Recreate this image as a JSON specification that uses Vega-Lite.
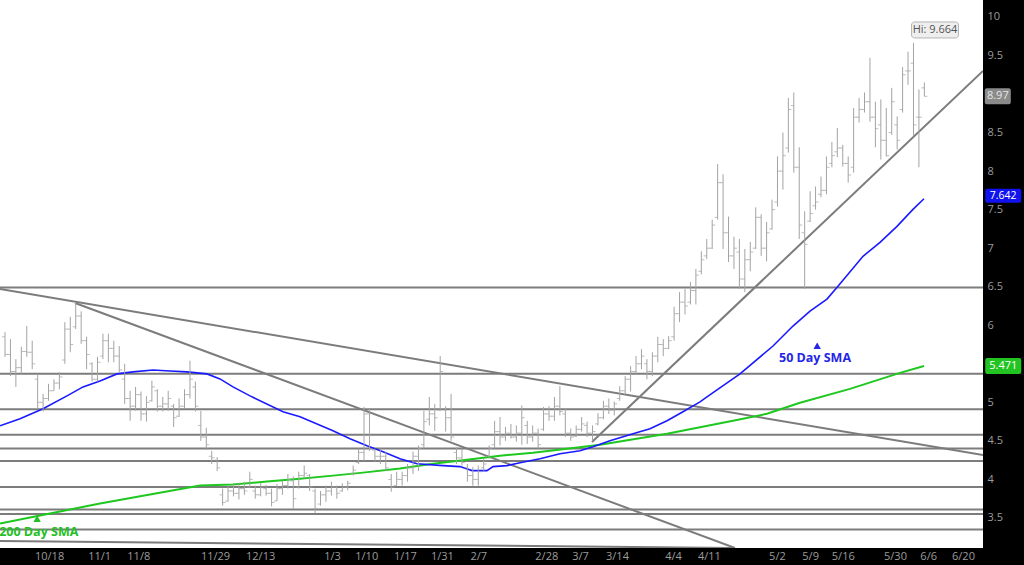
{
"$schema": "https://vega.github.io/schema/vega-lite/v6.json",
"width": 983, "height": 548,
"autosize": {"type": "none"},
"padding": {"left": 0, "top": 0, "right": 41, "bottom": 17},
"background": "#000000",
"config": {"view": {"fill": "#ffffff", "stroke": null}, "font": "Open Sans",
  "axis": {"domain": false, "ticks": false, "grid": false, "labelColor": "#9c9c9c", "labelFontSize": 11, "labelFont": "Open Sans", "title": null}},
"datasets": {
"bars": [
{"i":0,"o":5.85,"h":5.91,"l":5.59,"c":5.62},{"i":1,"o":5.62,"h":5.82,"l":5.34,"c":5.40},{"i":2,"o":5.40,"h":5.56,"l":5.20,"c":5.45},{"i":3,"o":5.45,"h":5.72,"l":5.37,"c":5.66},{"i":4,"o":5.66,"h":5.99,"l":5.59,"c":5.65},{"i":5,"o":5.65,"h":5.80,"l":5.43,"c":5.50},{"i":6,"o":5.30,"h":5.37,"l":4.92,"c":5.00},{"i":7,"o":5.00,"h":5.11,"l":4.88,"c":5.05},{"i":8,"o":5.05,"h":5.24,"l":5.02,"c":5.15},{"i":9,"o":5.15,"h":5.30,"l":5.15,"c":5.25},
{"i":10,"o":5.25,"h":5.39,"l":5.17,"c":5.33},{"i":11,"o":5.55,"h":6.04,"l":5.50,"c":5.95},{"i":12,"o":5.95,"h":6.11,"l":5.65,"c":5.75},{"i":13,"o":5.98,"h":6.30,"l":5.95,"c":6.12},{"i":14,"o":6.12,"h":6.18,"l":5.76,"c":5.80},{"i":15,"o":5.80,"h":5.85,"l":5.43,"c":5.62},{"i":16,"o":5.50,"h":5.52,"l":5.27,"c":5.30},{"i":17,"o":5.30,"h":5.59,"l":5.27,"c":5.52},{"i":18,"o":5.60,"h":5.89,"l":5.56,"c":5.80},{"i":19,"o":5.80,"h":5.89,"l":5.52,"c":5.70},
{"i":20,"o":5.70,"h":5.80,"l":5.52,"c":5.60},{"i":21,"o":5.60,"h":5.73,"l":5.39,"c":5.42},{"i":22,"o":5.30,"h":5.50,"l":4.98,"c":5.05},{"i":23,"o":5.05,"h":5.15,"l":4.76,"c":4.95},{"i":24,"o":4.95,"h":5.20,"l":4.89,"c":5.10},{"i":25,"o":5.10,"h":5.14,"l":4.76,"c":4.85},{"i":26,"o":4.85,"h":5.08,"l":4.75,"c":5.00},{"i":27,"o":5.02,"h":5.28,"l":5.01,"c":5.20},{"i":28,"o":5.15,"h":5.17,"l":4.88,"c":4.95},{"i":29,"o":4.95,"h":5.07,"l":4.88,"c":4.98},
{"i":30,"o":4.98,"h":5.15,"l":4.89,"c":5.05},{"i":31,"o":4.95,"h":4.98,"l":4.68,"c":4.80},{"i":32,"o":4.82,"h":5.05,"l":4.81,"c":4.95},{"i":33,"o":4.95,"h":5.17,"l":4.92,"c":5.10},{"i":34,"o":5.10,"h":5.54,"l":5.05,"c":5.30},{"i":35,"o":5.20,"h":5.27,"l":4.88,"c":4.95},{"i":36,"o":4.70,"h":4.89,"l":4.50,"c":4.55},{"i":37,"o":4.55,"h":4.67,"l":4.38,"c":4.45},{"i":38,"o":4.30,"h":4.37,"l":4.20,"c":4.28},{"i":39,"o":4.25,"h":4.29,"l":4.11,"c":4.15},
{"i":40,"o":3.80,"h":3.88,"l":3.66,"c":3.70},{"i":41,"o":3.72,"h":3.91,"l":3.71,"c":3.85},{"i":42,"o":3.85,"h":3.95,"l":3.78,"c":3.82},{"i":43,"o":3.82,"h":3.95,"l":3.74,"c":3.88},{"i":44,"o":3.88,"h":3.97,"l":3.80,"c":3.85},{"i":45,"o":3.90,"h":4.10,"l":3.89,"c":4.00},{"i":46,"o":3.85,"h":3.92,"l":3.75,"c":3.80},{"i":47,"o":3.80,"h":3.95,"l":3.78,"c":3.90},{"i":48,"o":3.88,"h":3.93,"l":3.79,"c":3.82},{"i":49,"o":3.82,"h":3.88,"l":3.65,"c":3.70},
{"i":50,"o":3.72,"h":3.94,"l":3.72,"c":3.88},{"i":51,"o":3.88,"h":3.98,"l":3.80,"c":3.92},{"i":52,"o":3.92,"h":4.07,"l":3.88,"c":4.00},{"i":53,"o":3.98,"h":4.04,"l":3.62,"c":3.75},{"i":54,"o":3.90,"h":4.10,"l":3.88,"c":4.05},{"i":55,"o":4.05,"h":4.18,"l":4.01,"c":4.08},{"i":56,"o":4.05,"h":4.07,"l":3.85,"c":3.90},{"i":57,"o":3.85,"h":3.88,"l":3.56,"c":3.62},{"i":58,"o":3.68,"h":3.85,"l":3.66,"c":3.80},{"i":59,"o":3.80,"h":3.92,"l":3.71,"c":3.85},
{"i":60,"o":3.85,"h":3.97,"l":3.79,"c":3.90},{"i":61,"o":3.90,"h":3.92,"l":3.75,"c":3.82},{"i":62,"o":3.85,"h":3.95,"l":3.84,"c":3.90},{"i":63,"o":3.90,"h":3.98,"l":3.86,"c":3.95},{"i":64,"o":4.08,"h":4.18,"l":4.05,"c":4.12},{"i":65,"o":4.22,"h":4.40,"l":4.20,"c":4.35},{"i":66,"o":4.35,"h":4.94,"l":4.24,"c":4.85},{"i":67,"o":4.85,"h":4.92,"l":4.37,"c":4.40},{"i":68,"o":4.38,"h":4.40,"l":4.23,"c":4.30},{"i":69,"o":4.30,"h":4.40,"l":4.20,"c":4.30},
{"i":70,"o":4.30,"h":4.36,"l":4.11,"c":4.15},{"i":71,"o":4.00,"h":4.07,"l":3.84,"c":3.90},{"i":72,"o":3.92,"h":4.10,"l":3.92,"c":4.00},{"i":73,"o":4.00,"h":4.10,"l":3.92,"c":4.05},{"i":74,"o":4.05,"h":4.20,"l":3.97,"c":4.15},{"i":75,"o":4.15,"h":4.36,"l":4.07,"c":4.30},{"i":76,"o":4.30,"h":4.44,"l":4.11,"c":4.40},{"i":77,"o":4.45,"h":4.89,"l":4.40,"c":4.75},{"i":78,"o":4.78,"h":5.07,"l":4.70,"c":4.85},{"i":79,"o":4.85,"h":4.98,"l":4.63,"c":4.80},
{"i":80,"o":4.90,"h":5.60,"l":4.89,"c":5.40},{"i":81,"o":4.90,"h":4.95,"l":4.62,"c":4.80},{"i":82,"o":4.80,"h":5.11,"l":4.50,"c":4.55},{"i":83,"o":4.35,"h":4.42,"l":4.20,"c":4.28},{"i":84,"o":4.28,"h":4.40,"l":4.18,"c":4.22},{"i":85,"o":4.15,"h":4.20,"l":3.97,"c":4.05},{"i":86,"o":4.05,"h":4.16,"l":3.92,"c":4.00},{"i":87,"o":4.00,"h":4.18,"l":3.92,"c":4.10},{"i":88,"o":4.15,"h":4.27,"l":4.11,"c":4.20},{"i":89,"o":4.30,"h":4.44,"l":4.27,"c":4.40},
{"i":90,"o":4.45,"h":4.76,"l":4.40,"c":4.62},{"i":91,"o":4.62,"h":4.81,"l":4.44,"c":4.55},{"i":92,"o":4.55,"h":4.68,"l":4.50,"c":4.60},{"i":93,"o":4.60,"h":4.72,"l":4.53,"c":4.55},{"i":94,"o":4.55,"h":4.70,"l":4.49,"c":4.60},{"i":95,"o":4.60,"h":4.96,"l":4.45,"c":4.80},{"i":96,"o":4.70,"h":4.76,"l":4.46,"c":4.55},{"i":97,"o":4.55,"h":4.70,"l":4.49,"c":4.60},{"i":98,"o":4.60,"h":4.66,"l":4.40,"c":4.45},{"i":99,"o":4.65,"h":4.94,"l":4.63,"c":4.85},
{"i":100,"o":4.85,"h":4.95,"l":4.76,"c":4.82},{"i":101,"o":4.82,"h":5.07,"l":4.76,"c":4.95},{"i":102,"o":4.95,"h":5.21,"l":4.83,"c":4.88},{"i":103,"o":4.85,"h":4.92,"l":4.55,"c":4.60},{"i":104,"o":4.60,"h":4.66,"l":4.50,"c":4.55},{"i":105,"o":4.56,"h":4.70,"l":4.55,"c":4.65},{"i":106,"o":4.65,"h":4.81,"l":4.62,"c":4.72},{"i":107,"o":4.70,"h":4.75,"l":4.55,"c":4.60},{"i":108,"o":4.60,"h":4.70,"l":4.50,"c":4.62},{"i":109,"o":4.72,"h":4.86,"l":4.70,"c":4.80},
{"i":110,"o":4.80,"h":5.02,"l":4.78,"c":4.95},{"i":111,"o":4.95,"h":5.05,"l":4.85,"c":4.90},{"i":112,"o":4.90,"h":5.01,"l":4.83,"c":4.98},{"i":113,"o":5.05,"h":5.21,"l":5.02,"c":5.15},{"i":114,"o":5.15,"h":5.34,"l":5.10,"c":5.30},{"i":115,"o":5.30,"h":5.47,"l":5.14,"c":5.40},{"i":116,"o":5.40,"h":5.60,"l":5.37,"c":5.50},{"i":117,"o":5.50,"h":5.69,"l":5.43,"c":5.60},{"i":118,"o":5.50,"h":5.56,"l":5.30,"c":5.40},{"i":119,"o":5.40,"h":5.65,"l":5.34,"c":5.60},
{"i":120,"o":5.60,"h":5.85,"l":5.52,"c":5.75},{"i":121,"o":5.75,"h":5.82,"l":5.60,"c":5.70},{"i":122,"o":5.70,"h":5.86,"l":5.69,"c":5.80},{"i":123,"o":5.85,"h":6.24,"l":5.80,"c":6.15},{"i":124,"o":6.15,"h":6.43,"l":6.04,"c":6.30},{"i":125,"o":6.30,"h":6.47,"l":6.14,"c":6.25},{"i":126,"o":6.30,"h":6.56,"l":6.27,"c":6.45},{"i":127,"o":6.45,"h":6.73,"l":6.27,"c":6.65},{"i":128,"o":6.70,"h":6.96,"l":6.66,"c":6.85},{"i":129,"o":6.90,"h":7.12,"l":6.86,"c":7.00},
{"i":130,"o":7.00,"h":7.37,"l":6.99,"c":7.30},{"i":131,"o":7.40,"h":8.09,"l":7.37,"c":7.85},{"i":132,"o":7.85,"h":7.96,"l":6.99,"c":7.20},{"i":133,"o":7.20,"h":7.41,"l":6.82,"c":6.90},{"i":134,"o":6.90,"h":7.15,"l":6.73,"c":7.00},{"i":135,"o":6.95,"h":7.12,"l":6.47,"c":6.60},{"i":136,"o":6.60,"h":6.99,"l":6.43,"c":6.85},{"i":137,"o":6.85,"h":7.08,"l":6.70,"c":6.95},{"i":138,"o":7.00,"h":7.53,"l":6.99,"c":7.40},{"i":139,"o":7.40,"h":7.44,"l":6.90,"c":7.00},
{"i":140,"o":7.00,"h":7.34,"l":6.83,"c":7.20},{"i":141,"o":7.25,"h":7.63,"l":7.24,"c":7.50},{"i":142,"o":7.60,"h":8.19,"l":7.54,"c":8.00},{"i":143,"o":8.00,"h":8.50,"l":7.76,"c":8.20},{"i":144,"o":8.30,"h":8.95,"l":8.24,"c":8.80},{"i":145,"o":8.85,"h":9.02,"l":7.98,"c":8.05},{"i":146,"o":8.05,"h":8.31,"l":7.12,"c":7.30},{"i":147,"o":7.20,"h":7.48,"l":6.47,"c":7.05},{"i":148,"o":7.35,"h":7.74,"l":7.34,"c":7.45},{"i":149,"o":7.55,"h":7.80,"l":7.50,"c":7.60},
{"i":150,"o":7.70,"h":7.93,"l":7.66,"c":7.75},{"i":151,"o":7.75,"h":8.19,"l":7.70,"c":8.05},{"i":152,"o":8.10,"h":8.38,"l":8.05,"c":8.20},{"i":153,"o":8.25,"h":8.56,"l":8.18,"c":8.30},{"i":154,"o":8.30,"h":8.34,"l":8.06,"c":8.10},{"i":155,"o":8.10,"h":8.19,"l":7.85,"c":7.95},{"i":156,"o":8.05,"h":8.82,"l":7.98,"c":8.70},{"i":157,"o":8.70,"h":8.95,"l":8.63,"c":8.80},{"i":158,"o":8.80,"h":9.02,"l":8.76,"c":8.90},{"i":159,"o":8.90,"h":9.47,"l":8.64,"c":8.70},
{"i":160,"o":8.70,"h":8.90,"l":8.31,"c":8.55},{"i":161,"o":8.60,"h":8.93,"l":8.15,"c":8.40},{"i":162,"o":8.40,"h":8.82,"l":8.19,"c":8.20},{"i":163,"o":8.50,"h":9.08,"l":8.47,"c":8.90},{"i":164,"o":8.60,"h":8.71,"l":8.28,"c":8.40},{"i":165,"o":8.80,"h":9.35,"l":8.76,"c":9.25},{"i":166,"o":9.30,"h":9.55,"l":9.12,"c":9.30},{"i":167,"o":9.40,"h":9.664,"l":8.45,"c":8.60},{"i":168,"o":8.70,"h":9.06,"l":8.05,"c":8.70},{"i":169,"o":9.08,"h":9.15,"l":8.97,"c":8.97}
],
"sma50": [
{"i":-0.92,"v":4.696},{"i":2.76,"v":4.787},{"i":6.99,"v":4.916},{"i":11.4,"v":5.084},{"i":14.34,"v":5.2},{"i":17.46,"v":5.278},{"i":20.59,"v":5.369},{"i":23.53,"v":5.395},{"i":27.21,"v":5.42},{"i":30.33,"v":5.407},{"i":33.46,"v":5.395},{"i":37.13,"v":5.369},{"i":39.52,"v":5.304},{"i":41.91,"v":5.2},{"i":45.04,"v":5.084},{"i":51.1,"v":4.877},{"i":54.23,"v":4.812},{"i":60.29,"v":4.631},{"i":63.42,"v":4.528},{"i":66.54,"v":4.437},{"i":69.49,"v":4.36},{"i":72.61,"v":4.269},{"i":75.74,"v":4.204},{"i":80.51,"v":4.179},{"i":83.64,"v":4.166},{"i":85.85,"v":4.114},{"i":88.6,"v":4.114},{"i":89.71,"v":4.166},{"i":92.28,"v":4.179},{"i":94.67,"v":4.217},{"i":98.35,"v":4.269},{"i":102.02,"v":4.334},{"i":105.7,"v":4.372},{"i":108.09,"v":4.424},{"i":111.21,"v":4.502},{"i":115.44,"v":4.592},{"i":118.57,"v":4.657},{"i":121.69,"v":4.761},{"i":124.63,"v":4.877},{"i":127.76,"v":5.006},{"i":129.04,"v":5.071},{"i":135.11,"v":5.369},{"i":141.18,"v":5.731},{"i":144.85,"v":5.99},{"i":147.98,"v":6.184},{"i":151.1,"v":6.339},{"i":153.12,"v":6.507},{"i":157.72,"v":6.895},{"i":160.85,"v":7.076},{"i":163.97,"v":7.283},{"i":166.91,"v":7.503},{"i":168.93,"v":7.642}
],
"sma200": [
{"i":-0.92,"v":3.428},{"i":8.27,"v":3.558},{"i":17.46,"v":3.687},{"i":26.65,"v":3.803},{"i":35.85,"v":3.92},{"i":41.91,"v":3.933},{"i":48.16,"v":3.972},{"i":54.23,"v":4.01},{"i":60.29,"v":4.049},{"i":65.81,"v":4.088},{"i":72.61,"v":4.14},{"i":78.68,"v":4.204},{"i":84.93,"v":4.256},{"i":90.99,"v":4.308},{"i":97.06,"v":4.347},{"i":103.31,"v":4.398},{"i":109.38,"v":4.45},{"i":121.69,"v":4.592},{"i":133.82,"v":4.761},{"i":140.07,"v":4.851},{"i":146.14,"v":4.994},{"i":155.33,"v":5.175},{"i":164.52,"v":5.382},{"i":168.93,"v":5.471}
],
"levels": [{"p":6.49},{"p":5.37},{"p":4.91},{"p":4.58},{"p":4.40},{"p":4.24},{"p":3.90},{"p":3.61},{"p":3.55},{"p":3.35}],
"trends": [
{"i1":-0.92,"p1":6.471,"i2":179.78,"p2":4.317},
{"i1":12.87,"p1":6.289,"i2":134.19,"p2":3.11},
{"i1":107.9,"p1":4.486,"i2":179.78,"p2":9.299},
{"i1":-0.92,"p1":3.201,"i2":134.0,"p2":3.11}
]
},
"layer": [
{"data": {"name": "levels"}, "mark": {"type": "rule", "color": "#7c7c7c", "strokeWidth": 2},
 "encoding": {"y": {"field": "p", "type": "quantitative", "scale": {"domain": [3.11, 10.22], "nice": false, "zero": false},
   "axis": {"orient": "right", "values": [3.5,4,4.5,5,6,6.5,7,7.5,8,8.5,9.5,10], "format": "~g", "labelPadding": 4}}}},
{"data": {"name": "trends"}, "mark": {"type": "rule", "color": "#7c7c7c", "strokeWidth": 2, "clip": true},
 "encoding": {
  "x": {"field": "i1", "type": "quantitative", "scale": {"domain": [-0.92, 179.78], "nice": false, "zero": false},
   "axis": {"orient": "bottom", "labelPadding": 2, "labelOverlap": false, "labelFlush": false,
    "values": [8.1,17.3,24.5,38.6,46.9,60.1,66.4,73.5,80.3,87.0,99.5,105.7,112.5,122.8,129.4,141.9,148.0,154.0,163.6,169.7,176.1],
    "labelExpr": "['10/18','11/1','11/8','11/29','12/13','1/3','1/10','1/17','1/31','2/7','2/28','3/7','3/14','4/4','4/11','5/2','5/9','5/16','5/30','6/6','6/20'][indexof([8.1,17.3,24.5,38.6,46.9,60.1,66.4,73.5,80.3,87.0,99.5,105.7,112.5,122.8,129.4,141.9,148.0,154.0,163.6,169.7,176.1], datum.value)]"}},
  "x2": {"field": "i2"},
  "y": {"field": "p1", "type": "quantitative", "scale": {"domain": [3.11, 10.22], "nice": false, "zero": false},
   "axis": {"orient": "right", "values": [3.5,4,4.5,5,6,6.5,7,7.5,8,8.5,9.5,10], "format": "~g", "labelPadding": 4}},
  "y2": {"field": "p2"}}},
{"data": {"name": "sma200"}, "mark": {"type": "line", "color": "#1ec81e", "strokeWidth": 2, "clip": true},
 "encoding": {"x": {"field": "i", "type": "quantitative"},
  "y": {"field": "v", "type": "quantitative"}}},
{"data": {"name": "sma50"}, "mark": {"type": "line", "color": "#1a1aff", "strokeWidth": 1.6, "clip": true},
 "encoding": {"x": {"field": "i", "type": "quantitative"},
  "y": {"field": "v", "type": "quantitative"}}},
{"data": {"name": "bars"}, "mark": {"type": "rule", "color": "#a3a3a3", "strokeWidth": 1},
 "encoding": {"x": {"field": "i", "type": "quantitative"},
  "y": {"field": "l", "type": "quantitative"},
  "y2": {"field": "h"}}},
{"data": {"name": "bars"}, "mark": {"type": "tick", "orient": "horizontal", "color": "#a3a3a3", "size": 3, "thickness": 1, "xOffset": -1.5},
 "encoding": {"x": {"field": "i", "type": "quantitative"},
  "y": {"field": "o", "type": "quantitative"}}},
{"data": {"name": "bars"}, "mark": {"type": "tick", "orient": "horizontal", "color": "#a3a3a3", "size": 3, "thickness": 1, "xOffset": 1.5},
 "encoding": {"x": {"field": "i", "type": "quantitative"},
  "y": {"field": "c", "type": "quantitative"}}},
{"data": {"values": [{"label": "50 Day SMA", "i": 148.9, "p": 5.575}]}, "mark": {"type": "text", "color": "#2525e6", "fontWeight": "bold", "fontSize": 12.5, "font": "Open Sans"},
 "encoding": {"x": {"field": "i", "type": "quantitative"}, "y": {"field": "p", "type": "quantitative"}, "text": {"field": "label"}}},
{"data": {"values": [{"i": 149.3, "p": 5.735}]}, "mark": {"type": "point", "shape": "triangle-up", "filled": true, "opacity": 1, "color": "#2525e6", "size": 55},
 "encoding": {"x": {"field": "i", "type": "quantitative"}, "y": {"field": "p", "type": "quantitative"}}},
{"data": {"values": [{"label": "200 Day SMA", "i": 6.2, "p": 3.318}]}, "mark": {"type": "text", "color": "#22c022", "fontWeight": "bold", "fontSize": 12.5, "font": "Open Sans"},
 "encoding": {"x": {"field": "i", "type": "quantitative"}, "y": {"field": "p", "type": "quantitative"}, "text": {"field": "label"}}},
{"data": {"values": [{"i": 5.9, "p": 3.49}]}, "mark": {"type": "point", "shape": "triangle-up", "filled": true, "opacity": 1, "color": "#22c022", "size": 55},
 "encoding": {"x": {"field": "i", "type": "quantitative"}, "y": {"field": "p", "type": "quantitative"}}},
{"data": {"values": [{"i": 170.96, "p": 9.831}]}, "mark": {"type": "rect", "width": 47, "height": 16, "cornerRadius": 3, "fill": "#eeeeee", "stroke": "#b4b4b4", "strokeWidth": 1},
 "encoding": {"x": {"field": "i", "type": "quantitative"}, "y": {"field": "p", "type": "quantitative"}}},
{"data": {"values": [{"label": "Hi: 9.664", "i": 170.96, "p": 9.831}]}, "mark": {"type": "text", "color": "#555555", "fontSize": 11, "font": "Open Sans"},
 "encoding": {"x": {"field": "i", "type": "quantitative"}, "y": {"field": "p", "type": "quantitative"}, "text": {"field": "label"}}},
{"data": {"values": [{"p": 8.97}]}, "mark": {"type": "rect", "width": 26, "height": 16, "cornerRadius": 2, "fill": "#8a8a8a"},
 "encoding": {"x": {"datum": 182.5, "type": "quantitative"}, "y": {"field": "p", "type": "quantitative"}}},
{"data": {"values": [{"p": 7.642}]}, "mark": {"type": "rect", "width": 36, "height": 14, "cornerRadius": 2, "fill": "#1212ee", "yOffset": -3},
 "encoding": {"x": {"datum": 183.5, "type": "quantitative"}, "y": {"field": "p", "type": "quantitative"}}},
{"data": {"values": [{"p": 5.471}]}, "mark": {"type": "rect", "width": 36, "height": 16, "cornerRadius": 2, "fill": "#22c422"},
 "encoding": {"x": {"datum": 183.5, "type": "quantitative"}, "y": {"field": "p", "type": "quantitative"}}},
{"data": {"values": [{"p": 8.97, "t": "8.97"}]}, "mark": {"type": "text", "align": "center", "color": "#e6e6e6", "fontSize": 11, "font": "Open Sans"},
 "encoding": {"x": {"datum": 182.5, "type": "quantitative"}, "y": {"field": "p", "type": "quantitative"}, "text": {"field": "t"}}},
{"data": {"values": [{"p": 7.642, "t": "7.642"}]}, "mark": {"type": "text", "align": "center", "color": "#ffffff", "fontSize": 10.5, "font": "Open Sans", "yOffset": -3},
 "encoding": {"x": {"datum": 183.5, "type": "quantitative"}, "y": {"field": "p", "type": "quantitative"}, "text": {"field": "t"}}},
{"data": {"values": [{"p": 5.471, "t": "5.471"}]}, "mark": {"type": "text", "align": "center", "color": "#ffffff", "fontSize": 11, "font": "Open Sans"},
 "encoding": {"x": {"datum": 183.5, "type": "quantitative"}, "y": {"field": "p", "type": "quantitative"}, "text": {"field": "t"}}}
]
}
